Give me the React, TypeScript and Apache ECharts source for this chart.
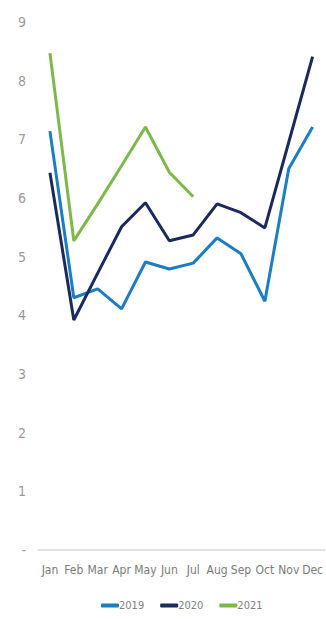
import React, { useEffect, useRef } from "react";
import * as echarts from "echarts";

const months = ["Jan", "Feb", "Mar", "Apr", "May", "Jun", "Jul", "Aug", "Sep", "Oct", "Nov", "Dec"];
const yTicks = [0, 1, 2, 3, 4, 5, 6, 7, 8, 9];

const values2019 = [7.14, 4.3, 4.45, 4.11, 4.91, 4.79, 4.89, 5.32, 5.05, 4.24, 6.5, 7.21];
const values2020 = [6.43, 3.92, 4.72, 5.51, 5.92, 5.27, 5.37, 5.9, 5.75, 5.49, 6.95, 8.41];
const values2021 = [8.47, 5.27, 5.9, 6.55, 7.21, 6.44, 6.02];

const seriesNames = ["2019", "2020", "2021"];
const seriesColors = ["#1b7dc4", "#1b2a5c", "#7cb84a"];

const FONT = "'Liberation Sans Narrow', 'DejaVu Sans Condensed', 'Liberation Sans', Arial, sans-serif";

export default function App() {
  const ref = useRef<HTMLDivElement>(null);

  useEffect(() => {
    if (!ref.current) return;
    const chart = echarts.init(ref.current, undefined, { renderer: "svg" });
    const data = [values2019, values2020, values2021];
    chart.setOption({
      animation: false,
      backgroundColor: "#ffffff",
      grid: { left: 38, right: 0, top: 22, bottom: 69, containLabel: false },
      legend: {
        bottom: 3,
        left: 96,
        icon: "roundRect",
        itemWidth: 18,
        itemHeight: 4,
        itemGap: 16,
        textStyle: { color: "#808080", fontFamily: FONT, fontSize: 11, padding: [0, 0, 0, -5] },
        data: seriesNames,
      },
      xAxis: {
        type: "category",
        data: months,
        boundaryGap: true,
        axisLine: { show: true, lineStyle: { color: "#d9d9d9", width: 1.5 } },
        axisTick: { show: false },
        axisLabel: {
          color: "#7a7a7a",
          fontFamily: FONT,
          fontSize: 12,
          margin: 14,
          interval: 0,
        },
      },
      yAxis: {
        type: "value",
        min: yTicks[0],
        max: yTicks[yTicks.length - 1],
        interval: 1,
        splitLine: { show: false },
        axisLine: { show: false },
        axisTick: { show: false },
        axisLabel: {
          color: "#9a9a9a",
          fontFamily: FONT,
          fontSize: 14,
          margin: 12,
          formatter: (v: number) => (v === 0 ? "-" : String(v)),
        },
      },
      series: seriesNames.map((name, i) => ({
        name,
        type: "line",
        data: data[i],
        showSymbol: false,
        symbol: "none",
        color: seriesColors[i],
        lineStyle: { width: 3, color: seriesColors[i] },
      })),
    });
    return () => chart.dispose();
  }, []);

  return (
    <div
      ref={ref}
      style={{ position: "fixed", left: 0, top: 0, width: 326, height: 619 }}
    />
  );
}
